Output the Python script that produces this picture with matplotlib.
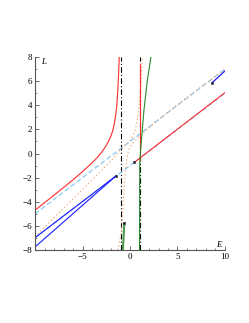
import matplotlib

matplotlib.use("Agg")
import matplotlib.pyplot as plt
from matplotlib.ticker import MultipleLocator

# curves (E on x, L on y)
red_left_e = [-10, -9, -8, -7, -6, -5, -4, -3.5, -3, -2.6, -2.3, -2, -1.8, -1.6, -1.5, -1.4, -1.3, -1.22, -1.16, -1.13]
red_left_l = [-4.7, -4.08, -3.46, -2.82, -2.18, -1.5, -0.78, -0.38, 0.08, 0.55, 0.95, 1.45, 1.95, 2.7, 3.2, 3.9, 5.0, 6.3, 7.4, 8.0]
red_vert_e = [1.05, 1.05]
red_vert_l = [7.4, -0.5]
red_diag_e = [0.46, 10]
red_diag_l = [-0.73, 5.05]

upper_asym_e = [-10, 10]
upper_asym_l = [-5.0, 7.0]
lower_asym_e = [-10, 10]
lower_asym_l = [-7.0, 5.0]

blue_a_e = [-10, -1.48]
blue_a_l = [-6.98, -1.86]
blue_b_e = [-10, -1.48]
blue_b_l = [-7.75, -1.86]
blue_c_e = [8.65, 10]
blue_c_l = [5.87, 6.85]

green_e = [1.0, 1.02, 1.06, 1.12, 1.3, 1.47, 1.8, 2.2]
green_l = [-8.0, -1.0, -0.4, 0.3, 2.0, 3.6, 5.9, 8.0]
green_short_e = [-0.6, -0.75]
green_short_l = [-5.8, -8.0]

orange_a_e = [-10, -8, -6, -4, -3, -2, -1, 0, 0.5, 0.8, 1.0, 1.15, 1.3]
orange_a_l = [-6.9, -5.3, -3.75, -2.2, -1.4, -0.6, 0.3, 1.05, 1.8, 2.9, 4.2, 5.8, 8.0]
orange_b_e = [-1.25, -0.87, -0.7, -0.53, -0.35, -0.15, 0.3, 1, 2, 4, 6, 8, 10]
orange_b_l = [-8.0, -6.3, -4.0, -1.9, -0.6, 0.3, 0.85, 1.45, 2.15, 3.45, 4.65, 5.82, 7.0]

asym_e = [-1, 1]

tip_e = [-1.48, 8.65, 0.46, -0.6]
tip_l = [-1.86, 5.87, -0.73, -5.8]

RED = "#ff2a2a"
BLUE = "#1a1aff"
LIGHT = "#8ccaf5"
ORANGE = "#f2a677"
GREEN = "#2a8a2a"

plt.rcParams["font.family"] = ["Liberation Serif", "DejaVu Serif"]

fig = plt.figure(figsize=(2.49, 3.23), dpi=100)
ax = fig.add_axes([0.1406, 0.226, 0.763, 0.5975])

for e in asym_e:
    ax.plot([e, e], [-8, 8], color="black", lw=0.8, ls=(0, (5, 2, 1, 2)))

ax.plot(lower_asym_e, lower_asym_l, color=LIGHT, lw=0.9, ls=(0, (4, 2)))
ax.plot(upper_asym_e, upper_asym_l, color=LIGHT, lw=0.9, ls=(0, (4, 2)))
ax.plot(orange_a_e, orange_a_l, color=ORANGE, lw=0.9, ls=(0, (1, 2)))
ax.plot(orange_b_e, orange_b_l, color=ORANGE, lw=0.9, ls=(0, (1, 2)))

ax.plot(red_left_e, red_left_l, color=RED, lw=0.8)
ax.plot(red_vert_e, red_vert_l, color=RED, lw=0.8)
ax.plot(red_diag_e, red_diag_l, color=RED, lw=0.8)

ax.plot(blue_a_e, blue_a_l, color=BLUE, lw=0.8)
ax.plot(blue_b_e, blue_b_l, color=BLUE, lw=0.8)
ax.plot(blue_c_e, blue_c_l, color=BLUE, lw=0.9)

ax.plot(green_e, green_l, color=GREEN, lw=0.8)
ax.plot(green_short_e, green_short_l, color="#4a9a4a", lw=1.5)

ax.plot(tip_e, tip_l, ls="none", marker="s", ms=1.4, mew=0.4, color="#20203a")

ax.set_xlim(-10, 10)
ax.set_ylim(-8, 8)
for side in ("top", "right"):
    ax.spines[side].set_visible(False)
for side in ("left", "bottom"):
    ax.spines[side].set_color("#555555")
    ax.spines[side].set_linewidth(0.8)

ax.set_xticks([-5, 0, 5, 10])
ax.set_xticklabels(["\u22125", "0", "5", "10"])
ax.set_yticks(range(-8, 9, 2))
ax.set_yticklabels([f"\u2212{abs(v)}" if v < 0 else str(v) for v in range(-8, 9, 2)])
ax.xaxis.set_minor_locator(MultipleLocator(1))
ax.yaxis.set_minor_locator(MultipleLocator(1))
ax.tick_params(which="major", direction="in", length=3, width=0.6, color="#555555", labelsize=6.5, pad=2)
ax.tick_params(which="minor", direction="in", length=1.5, width=0.5, color="#555555")

ax.text(-9.1, 7.6, "L", fontsize=6.5, style="italic", ha="center", va="center")
ax.text(9.4, -7.55, "E", fontsize=6.5, style="italic", ha="center", va="center")

fig.savefig("out.png", dpi=100)
